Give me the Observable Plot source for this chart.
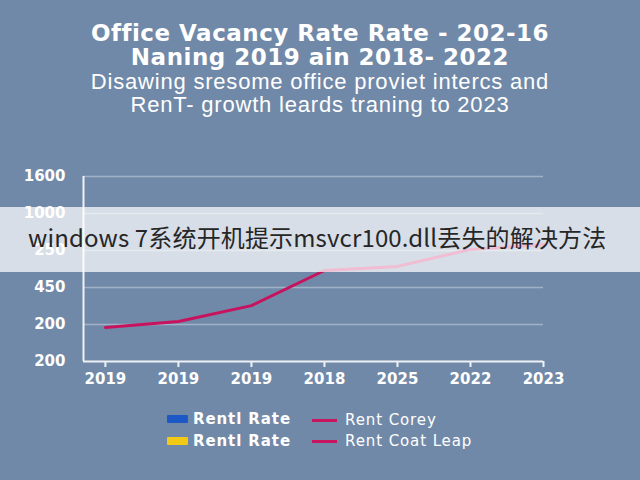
<!DOCTYPE html>
<html>
<head>
<meta charset="utf-8">
<script src="https://cdn.jsdelivr.net/npm/d3@7"></script>
<script src="https://cdn.jsdelivr.net/npm/@observablehq/plot@0.6"></script>
<style>
  html, body { margin: 0; padding: 0; }
  body { width: 640px; height: 480px; background: #7189a8; position: relative; overflow: hidden; font-family: "Liberation Sans", Arial, sans-serif; color: #fff; }
  .t { position: absolute; left: 0; width: 640px; text-align: center; white-space: nowrap; }
  .t1 { font-family: "DejaVu Sans", sans-serif; font-weight: bold; font-size: 23px; letter-spacing: 0.5px; line-height: 24px; }
  .t2 { font-size: 22px; letter-spacing: 0.8px; line-height: 24px; padding-right: 8px; }
  #plot { position: absolute; left: 0; top: 160px; }
  .leg { position: absolute; font-family: "DejaVu Sans", sans-serif; font-size: 15px; letter-spacing: 0.9px; line-height: 18px; white-space: nowrap; }
  .sw { position: absolute; width: 21px; height: 8px; border-radius: 1px; }
  .ln { position: absolute; width: 25px; height: 3px; }
  #banner { position: absolute; left: 0; top: 207px; width: 640px; height: 65px; background: rgba(255,255,255,0.72); }
  #banner span { position: absolute; left: 28px; top: 13px; font-family: "Noto Sans CJK SC", sans-serif; font-size: 24px; letter-spacing: 0.15px; line-height: 34px; color: #262626; white-space: nowrap; }
</style>
</head>
<body>
<script>
const titleLines = ["Office Vacancy Rate Rate - 202-16", "Naning 2019 ain 2018- 2022"];
const subtitleLines = ["Disawing sresome office proviet intercs and", "RenT- growth leards traning to 2023"];
const xLabels = ["2019", "2019", "2019", "2018", "2025", "2022", "2023"];
const yLabels = ["200", "200", "450", "250", "1000", "1600"];
const rentValues = [0.92, 1.08, 1.51, 2.46, 2.57, 3.03, 3.16];
const legendBoxes = [{label: "Rentl Rate", color: "#1c58c6"}, {label: "Rentl Rate", color: "#f2ca16"}];
const legendLines = [{label: "Rent Corey", color: "#c8155f"}, {label: "Rent Coat Leap", color: "#c8155f"}];
const bannerText = "windows 7系统开机提示msvcr100.dll丢失的解决方法";

const lineColor = "#c8125e";
const xMin = -0.3;

// titles
const tops = [21, 45];
titleLines.forEach((s, i) => {
  const d = document.createElement("div");
  d.className = "t t1"; d.style.top = tops[i] + "px"; d.textContent = s;
  document.body.appendChild(d);
});
const stops = [70, 93];
subtitleLines.forEach((s, i) => {
  const d = document.createElement("div");
  d.className = "t t2"; d.style.top = stops[i] + "px"; d.textContent = s;
  document.body.appendChild(d);
});

const data = rentValues.map((v, i) => ({i, v}));

const chart = Plot.plot({
  width: 640,
  height: 240,
  marginLeft: 83,
  marginRight: 97,
  marginTop: 16,
  marginBottom: 39,
  style: {background: "transparent", color: "#fff", fontFamily: "DejaVu Sans, sans-serif", fontSize: "15px", fontWeight: "bold"},
  x: {domain: [xMin, 6]},
  y: {domain: [0, 5]},
  marks: [
    Plot.gridY(d3.range(1, 6), {stroke: "#fff", strokeOpacity: 0.35, strokeWidth: 1.5}),
    Plot.axisY(d3.range(0, 6), {tickSize: 0, tickPadding: 18, tickFormat: i => yLabels[i], fill: "#fff", label: null}),
    Plot.axisX(d3.range(0, 7), {tickSize: 6, tickPadding: 6, tickFormat: i => xLabels[i], stroke: "#eef2f6", strokeWidth: 2, fill: "#fff", label: null}),
    Plot.ruleX([xMin], {stroke: "#eef2f6", strokeWidth: 2}),
    Plot.ruleY([0], {stroke: "#eef2f6", strokeWidth: 2}),
    Plot.line(data, {x: "i", y: "v", stroke: lineColor, strokeWidth: 3})
  ]
});
chart.id = "plot";
document.body.appendChild(chart);

// legend
legendBoxes.forEach((e, r) => {
  const y = 419 + r * 22;
  const sw = document.createElement("div");
  sw.className = "sw"; sw.style.left = "167px"; sw.style.top = (y - 4) + "px"; sw.style.background = e.color;
  document.body.appendChild(sw);
  const t = document.createElement("div");
  t.className = "leg"; t.style.left = "193px"; t.style.top = (y - 9) + "px"; t.style.fontWeight = "bold"; t.textContent = e.label;
  document.body.appendChild(t);
});
legendLines.forEach((e, r) => {
  const y = 420 + r * 21;
  const ln = document.createElement("div");
  ln.className = "ln"; ln.style.left = "312px"; ln.style.top = (y - 1) + "px"; ln.style.background = e.color;
  document.body.appendChild(ln);
  const t = document.createElement("div");
  t.className = "leg"; t.style.left = "345px"; t.style.top = (y - 9) + "px"; t.textContent = e.label;
  document.body.appendChild(t);
});

// overlay banner
const b = document.createElement("div");
b.id = "banner";
const bs = document.createElement("span");
bs.textContent = bannerText;
b.appendChild(bs);
document.body.appendChild(b);
</script>
</body>
</html>
